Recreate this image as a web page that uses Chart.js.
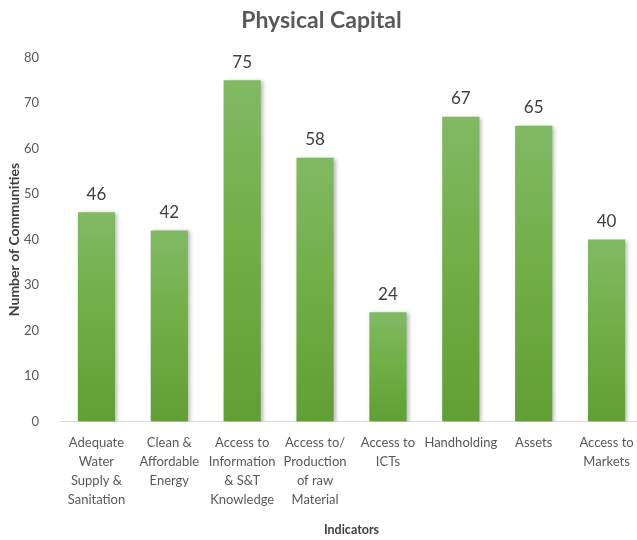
<!DOCTYPE html>
<html>
<head>
<meta charset="utf-8">
<script src="https://cdn.jsdelivr.net/npm/chart.js@4.4.0/dist/chart.umd.min.js"></script>
<style>
  html, body { margin: 0; padding: 0; background: #ffffff; overflow: hidden; width: 637px; height: 540px; }
  #wrap { width: 643px; height: 540px; }
</style>
</head>
<body>
<div id="wrap"><canvas id="c" width="643" height="540"></canvas></div>
<script>
const categories = [
  ["Adequate", "Water", "Supply &", "Sanitation"],
  ["Clean &", "Affordable", "Energy"],
  ["Access to", "Information", "& S&T", "Knowledge"],
  ["Access to/", "Production", "of raw", "Material"],
  ["Access to", "ICTs"],
  ["Handholding"],
  ["Assets"],
  ["Access to", "Markets"]
];
const communities = [46, 42, 75, 58, 24, 67, 65, 40];
const yTicks = [0, 10, 20, 30, 40, 50, 60, 70, 80];

const FONT = "Lato, 'Open Sans', sans-serif";

const barShadow = {
  id: 'barShadow',
  beforeDatasetDraw(chart) {
    const ctx = chart.ctx;
    ctx.save();
    ctx.shadowColor = 'rgba(0,0,0,0.28)';
    ctx.shadowBlur = 4;
    ctx.shadowOffsetX = 2;
    ctx.shadowOffsetY = 1;
  },
  afterDatasetDraw(chart) {
    chart.ctx.restore();
  }
};

const valueLabels = {
  id: 'valueLabels',
  afterDatasetsDraw(chart) {
    const ctx = chart.ctx;
    const meta = chart.getDatasetMeta(0);
    ctx.save();
    ctx.font = "17px " + FONT;
    ctx.fillStyle = '#404040';
    ctx.textAlign = 'center';
    ctx.textBaseline = 'middle';
    meta.data.forEach((bar, i) => {
      ctx.fillText(String(communities[i]), bar.x, bar.y - 18);
    });
    ctx.restore();
  }
};

new Chart(document.getElementById('c'), {
  type: 'bar',
  data: {
    labels: categories,
    datasets: [{
      data: communities,
      backgroundColor(context) {
        const chart = context.chart;
        if (!chart.chartArea) return '#70ad47';
        const ys = chart.scales.y;
        const top = ys.getPixelForValue(context.raw);
        const bottom = ys.getPixelForValue(0);
        const g = chart.ctx.createLinearGradient(0, top, 0, bottom);
        g.addColorStop(0, '#81b964');
        g.addColorStop(0.5, '#6fae44');
        g.addColorStop(1, '#5f9f33');
        return g;
      },
      borderWidth: 0,
      barPercentage: 0.51,
      categoryPercentage: 1.0
    }]
  },
  options: {
    responsive: false,
    animation: false,
    devicePixelRatio: 1,
    layout: { padding: { left: 0, right: 0, top: 0, bottom: 0 } },
    plugins: {
      legend: { display: false },
      tooltip: { enabled: false },
      title: {
        display: true,
        text: 'Physical Capital',
        color: '#595959',
        font: { family: FONT, size: 23, weight: 'bold', lineHeight: 1.2 },
        padding: { top: 7, bottom: 23 }
      }
    },
    scales: {
      x: {
        grid: { display: false },
        border: { display: true, color: '#d9d9d9', width: 1 },
        ticks: {
          color: '#595959',
          font: { family: FONT, size: 13, lineHeight: 1.45 },
          padding: 4,
          maxRotation: 0,
          autoSkip: false
        },
        title: {
          display: true,
          text: 'Indicators',
          color: '#404040',
          font: { family: FONT, size: 12.5, weight: 'bold', lineHeight: 1.2 },
          padding: { top: 0, bottom: 3 }
        },
        afterFit(scale) { scale.height = 118.5; }
      },
      y: {
        min: 0,
        max: 80,
        afterBuildTicks(scale) { scale.ticks = yTicks.map(v => ({ value: v })); },
        grid: { display: false },
        border: { display: false },
        ticks: {
          color: '#595959',
          font: { family: FONT, size: 13 },
          padding: 13
        },
        title: {
          display: true,
          text: 'Number of Communities',
          color: '#404040',
          font: { family: FONT, size: 14, weight: 'bold', lineHeight: 1.2 },
          padding: { top: 6, bottom: 0 }
        },
        afterFit(scale) { scale.width = 60; }
      }
    }
  },
  plugins: [barShadow, valueLabels]
});
</script>
</body>
</html>
